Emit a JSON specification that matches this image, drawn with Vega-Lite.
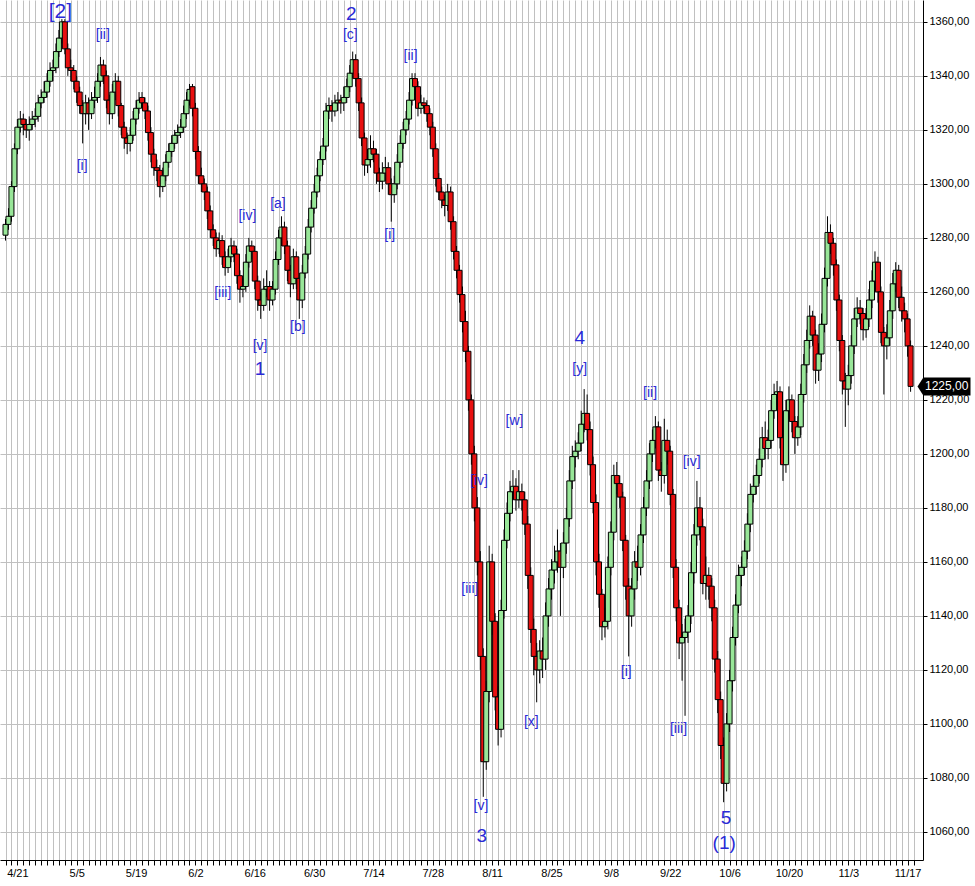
{
"$schema": "https://vega.github.io/schema/vega-lite/v6.json",
"width": 923, "height": 860,
"autosize": {"type": "none"},
"padding": {"left": 0, "top": 0, "right": 52, "bottom": 26},
"background": "white",
"config": {"view": {"stroke": null}},
"datasets": {
"bars": [
{"k":-4,"o":1281,"h":1287,"l":1279,"c":1285},{"k":-3,"o":1285,"h":1291,"l":1283,"c":1288},{"k":-2,"o":1288,"h":1301,"l":1286,"c":1299},{"k":-1,"o":1299,"h":1315,"l":1297,"c":1313},
{"k":0,"o":1313,"h":1324,"l":1311,"c":1321},{"k":1,"o":1321,"h":1327,"l":1319,"c":1324},{"k":2,"o":1324,"h":1326,"l":1318,"c":1322},{"k":3,"o":1322,"h":1324,"l":1317,"c":1320},
{"k":4,"o":1320,"h":1325,"l":1316,"c":1322},{"k":5,"o":1322,"h":1327,"l":1320,"c":1324},{"k":6,"o":1324,"h":1328,"l":1321,"c":1325},{"k":7,"o":1325,"h":1333,"l":1323,"c":1330},
{"k":8,"o":1330,"h":1335,"l":1328,"c":1332},{"k":9,"o":1332,"h":1338,"l":1330,"c":1334},{"k":10,"o":1334,"h":1341,"l":1332,"c":1338},{"k":11,"o":1338,"h":1345,"l":1336,"c":1342},
{"k":12,"o":1342,"h":1346,"l":1338,"c":1343},{"k":13,"o":1343,"h":1352,"l":1341,"c":1349},{"k":14,"o":1349,"h":1357,"l":1347,"c":1354},{"k":15,"o":1354,"h":1361,"l":1352,"c":1360},
{"k":16,"o":1360,"h":1361,"l":1348,"c":1350},{"k":17,"o":1350,"h":1352,"l":1340,"c":1343},{"k":18,"o":1343,"h":1346,"l":1338,"c":1342},{"k":19,"o":1342,"h":1344,"l":1335,"c":1338},
{"k":20,"o":1338,"h":1340,"l":1330,"c":1334},{"k":21,"o":1334,"h":1336,"l":1326,"c":1329},{"k":22,"o":1329,"h":1331,"l":1315,"c":1326},{"k":23,"o":1326,"h":1333,"l":1322,"c":1330},
{"k":24,"o":1330,"h":1332,"l":1320,"c":1326},{"k":25,"o":1326,"h":1334,"l":1324,"c":1331},{"k":26,"o":1331,"h":1336,"l":1328,"c":1332},{"k":27,"o":1332,"h":1341,"l":1330,"c":1338},
{"k":28,"o":1338,"h":1347,"l":1336,"c":1344},{"k":29,"o":1344,"h":1346,"l":1337,"c":1340},{"k":30,"o":1340,"h":1342,"l":1328,"c":1331},{"k":31,"o":1331,"h":1333,"l":1322,"c":1326},
{"k":32,"o":1326,"h":1337,"l":1324,"c":1334},{"k":33,"o":1334,"h":1341,"l":1331,"c":1338},{"k":34,"o":1338,"h":1340,"l":1325,"c":1329},{"k":35,"o":1329,"h":1330,"l":1318,"c":1321},
{"k":36,"o":1321,"h":1323,"l":1313,"c":1317},{"k":37,"o":1317,"h":1319,"l":1311,"c":1315},{"k":38,"o":1315,"h":1321,"l":1312,"c":1318},{"k":39,"o":1318,"h":1327,"l":1316,"c":1324},
{"k":40,"o":1324,"h":1331,"l":1322,"c":1328},{"k":41,"o":1328,"h":1334,"l":1326,"c":1331},{"k":42,"o":1332,"h":1334,"l":1328,"c":1330},{"k":43,"o":1330,"h":1332,"l":1324,"c":1327},
{"k":44,"o":1327,"h":1329,"l":1316,"c":1319},{"k":45,"o":1319,"h":1321,"l":1308,"c":1311},{"k":46,"o":1311,"h":1313,"l":1303,"c":1306},{"k":47,"o":1306,"h":1309,"l":1301,"c":1305},
{"k":48,"o":1305,"h":1307,"l":1295,"c":1299},{"k":49,"o":1299,"h":1306,"l":1297,"c":1303},{"k":50,"o":1303,"h":1311,"l":1301,"c":1308},{"k":51,"o":1308,"h":1315,"l":1306,"c":1312},
{"k":52,"o":1312,"h":1318,"l":1310,"c":1315},{"k":53,"o":1315,"h":1320,"l":1313,"c":1318},{"k":54,"o":1318,"h":1322,"l":1315,"c":1319},{"k":55,"o":1319,"h":1324,"l":1317,"c":1321},
{"k":56,"o":1321,"h":1329,"l":1319,"c":1326},{"k":57,"o":1326,"h":1334,"l":1324,"c":1331},{"k":58,"o":1331,"h":1337,"l":1329,"c":1335},{"k":59,"o":1336,"h":1337,"l":1325,"c":1328},
{"k":60,"o":1328,"h":1330,"l":1309,"c":1312},{"k":61,"o":1312,"h":1314,"l":1300,"c":1303},{"k":62,"o":1303,"h":1306,"l":1297,"c":1300},{"k":63,"o":1300,"h":1302,"l":1294,"c":1297},
{"k":64,"o":1297,"h":1299,"l":1287,"c":1290},{"k":65,"o":1290,"h":1292,"l":1280,"c":1283},{"k":66,"o":1283,"h":1285,"l":1277,"c":1280},{"k":67,"o":1280,"h":1282,"l":1273,"c":1276},
{"k":68,"o":1276,"h":1282,"l":1274,"c":1279},{"k":69,"o":1279,"h":1281,"l":1270,"c":1273},{"k":70,"o":1273,"h":1275,"l":1266,"c":1269},{"k":71,"o":1269,"h":1276,"l":1267,"c":1273},
{"k":72,"o":1273,"h":1280,"l":1271,"c":1277},{"k":73,"o":1277,"h":1279,"l":1271,"c":1274},{"k":74,"o":1274,"h":1276,"l":1263,"c":1266},{"k":75,"o":1266,"h":1268,"l":1256,"c":1261},
{"k":76,"o":1261,"h":1265,"l":1258,"c":1262},{"k":77,"o":1262,"h":1274,"l":1260,"c":1271},{"k":78,"o":1271,"h":1280,"l":1269,"c":1277},{"k":79,"o":1277,"h":1279,"l":1272,"c":1275},
{"k":80,"o":1275,"h":1277,"l":1261,"c":1264},{"k":81,"o":1264,"h":1266,"l":1253,"c":1257},{"k":82,"o":1257,"h":1260,"l":1250,"c":1255},{"k":83,"o":1255,"h":1265,"l":1253,"c":1261},
{"k":84,"o":1261,"h":1268,"l":1258,"c":1262},{"k":85,"o":1262,"h":1264,"l":1253,"c":1257},{"k":86,"o":1257,"h":1264,"l":1255,"c":1261},{"k":87,"o":1261,"h":1275,"l":1259,"c":1272},
{"k":88,"o":1272,"h":1283,"l":1270,"c":1280},{"k":89,"o":1280,"h":1288,"l":1277,"c":1284},{"k":90,"o":1284,"h":1286,"l":1274,"c":1277},{"k":91,"o":1277,"h":1279,"l":1264,"c":1268},
{"k":92,"o":1268,"h":1270,"l":1258,"c":1263},{"k":93,"o":1263,"h":1276,"l":1261,"c":1273},{"k":94,"o":1273,"h":1275,"l":1261,"c":1265},{"k":95,"o":1265,"h":1267,"l":1250,"c":1257},
{"k":96,"o":1257,"h":1270,"l":1254,"c":1267},{"k":97,"o":1267,"h":1277,"l":1265,"c":1274},{"k":98,"o":1274,"h":1287,"l":1272,"c":1284},{"k":99,"o":1284,"h":1294,"l":1282,"c":1291},
{"k":100,"o":1291,"h":1300,"l":1289,"c":1297},{"k":101,"o":1297,"h":1306,"l":1295,"c":1303},{"k":102,"o":1303,"h":1312,"l":1301,"c":1309},{"k":103,"o":1309,"h":1317,"l":1307,"c":1314},
{"k":104,"o":1314,"h":1330,"l":1312,"c":1327},{"k":105,"o":1327,"h":1332,"l":1324,"c":1329},{"k":106,"o":1329,"h":1331,"l":1323,"c":1327},{"k":107,"o":1327,"h":1333,"l":1325,"c":1330},
{"k":108,"o":1330,"h":1334,"l":1327,"c":1331},{"k":109,"o":1331,"h":1333,"l":1326,"c":1330},{"k":110,"o":1330,"h":1336,"l":1327,"c":1332},{"k":111,"o":1332,"h":1339,"l":1330,"c":1336},
{"k":112,"o":1336,"h":1344,"l":1334,"c":1341},{"k":113,"o":1341,"h":1349,"l":1339,"c":1346},{"k":114,"o":1346,"h":1348,"l":1336,"c":1339},{"k":115,"o":1339,"h":1341,"l":1327,"c":1330},
{"k":116,"o":1330,"h":1332,"l":1314,"c":1317},{"k":117,"o":1317,"h":1319,"l":1303,"c":1307},{"k":118,"o":1307,"h":1313,"l":1304,"c":1309},{"k":119,"o":1309,"h":1318,"l":1306,"c":1313},
{"k":120,"o":1313,"h":1316,"l":1308,"c":1311},{"k":121,"o":1311,"h":1313,"l":1300,"c":1304},{"k":122,"o":1304,"h":1306,"l":1297,"c":1301},{"k":123,"o":1301,"h":1308,"l":1298,"c":1304},
{"k":124,"o":1304,"h":1310,"l":1301,"c":1306},{"k":125,"o":1306,"h":1308,"l":1296,"c":1300},{"k":126,"o":1300,"h":1302,"l":1286,"c":1296},{"k":127,"o":1296,"h":1303,"l":1293,"c":1300},
{"k":128,"o":1300,"h":1311,"l":1298,"c":1308},{"k":129,"o":1308,"h":1318,"l":1306,"c":1315},{"k":130,"o":1315,"h":1323,"l":1313,"c":1320},{"k":131,"o":1320,"h":1327,"l":1318,"c":1324},
{"k":132,"o":1324,"h":1334,"l":1322,"c":1331},{"k":133,"o":1331,"h":1341,"l":1329,"c":1339},{"k":134,"o":1339,"h":1341,"l":1333,"c":1336},{"k":135,"o":1336,"h":1338,"l":1325,"c":1328},
{"k":136,"o":1328,"h":1333,"l":1326,"c":1330},{"k":137,"o":1330,"h":1332,"l":1326,"c":1329},{"k":138,"o":1329,"h":1331,"l":1323,"c":1326},{"k":139,"o":1326,"h":1328,"l":1318,"c":1321},
{"k":140,"o":1321,"h":1323,"l":1310,"c":1313},{"k":141,"o":1313,"h":1315,"l":1299,"c":1302},{"k":142,"o":1302,"h":1304,"l":1294,"c":1297},{"k":143,"o":1297,"h":1299,"l":1291,"c":1294},
{"k":144,"o":1294,"h":1296,"l":1288,"c":1292},{"k":145,"o":1292,"h":1300,"l":1290,"c":1297},{"k":146,"o":1297,"h":1299,"l":1283,"c":1286},{"k":147,"o":1286,"h":1288,"l":1272,"c":1275},
{"k":148,"o":1275,"h":1277,"l":1265,"c":1268},{"k":149,"o":1268,"h":1270,"l":1256,"c":1259},{"k":150,"o":1259,"h":1262,"l":1245,"c":1249},{"k":151,"o":1249,"h":1253,"l":1234,"c":1238},
{"k":152,"o":1238,"h":1240,"l":1216,"c":1220},{"k":153,"o":1220,"h":1222,"l":1196,"c":1200},{"k":154,"o":1200,"h":1203,"l":1175,"c":1180},{"k":155,"o":1180,"h":1184,"l":1155,"c":1160},
{"k":156,"o":1160,"h":1164,"l":1120,"c":1125},{"k":157,"o":1125,"h":1128,"l":1073,"c":1086},{"k":158,"o":1086,"h":1116,"l":1083,"c":1112},{"k":159,"o":1112,"h":1166,"l":1108,"c":1160},
{"k":160,"o":1160,"h":1163,"l":1133,"c":1138},{"k":161,"o":1138,"h":1141,"l":1105,"c":1110},{"k":162,"o":1110,"h":1114,"l":1092,"c":1098},{"k":163,"o":1098,"h":1146,"l":1095,"c":1142},
{"k":164,"o":1142,"h":1172,"l":1139,"c":1168},{"k":165,"o":1168,"h":1182,"l":1165,"c":1178},{"k":166,"o":1178,"h":1190,"l":1175,"c":1186},{"k":167,"o":1186,"h":1194,"l":1183,"c":1188},
{"k":168,"o":1188,"h":1191,"l":1179,"c":1183},{"k":169,"o":1183,"h":1194,"l":1180,"c":1186},{"k":170,"o":1186,"h":1189,"l":1179,"c":1183},{"k":171,"o":1183,"h":1186,"l":1170,"c":1174},
{"k":172,"o":1174,"h":1177,"l":1150,"c":1155},{"k":173,"o":1155,"h":1158,"l":1130,"c":1135},{"k":174,"o":1135,"h":1139,"l":1118,"c":1125},{"k":175,"o":1125,"h":1130,"l":1108,"c":1120},
{"k":176,"o":1120,"h":1131,"l":1115,"c":1127},{"k":177,"o":1127,"h":1132,"l":1117,"c":1124},{"k":178,"o":1124,"h":1145,"l":1120,"c":1140},{"k":179,"o":1140,"h":1154,"l":1136,"c":1150},
{"k":180,"o":1150,"h":1161,"l":1146,"c":1157},{"k":181,"o":1157,"h":1166,"l":1152,"c":1160},{"k":182,"o":1160,"h":1172,"l":1156,"c":1164},{"k":183,"o":1164,"h":1167,"l":1140,"c":1158},
{"k":184,"o":1158,"h":1171,"l":1154,"c":1167},{"k":185,"o":1167,"h":1180,"l":1163,"c":1176},{"k":186,"o":1176,"h":1194,"l":1173,"c":1190},{"k":187,"o":1190,"h":1203,"l":1187,"c":1199},
{"k":188,"o":1199,"h":1205,"l":1195,"c":1201},{"k":189,"o":1201,"h":1208,"l":1198,"c":1204},{"k":190,"o":1204,"h":1216,"l":1201,"c":1211},{"k":191,"o":1211,"h":1224,"l":1208,"c":1215},
{"k":192,"o":1215,"h":1222,"l":1205,"c":1209},{"k":193,"o":1209,"h":1212,"l":1192,"c":1196},{"k":194,"o":1196,"h":1199,"l":1178,"c":1182},{"k":195,"o":1182,"h":1185,"l":1155,"c":1160},
{"k":196,"o":1160,"h":1163,"l":1143,"c":1148},{"k":197,"o":1148,"h":1150,"l":1131,"c":1136},{"k":198,"o":1136,"h":1143,"l":1132,"c":1138},{"k":199,"o":1138,"h":1162,"l":1135,"c":1158},
{"k":200,"o":1158,"h":1175,"l":1155,"c":1171},{"k":201,"o":1171,"h":1196,"l":1168,"c":1192},{"k":202,"o":1192,"h":1197,"l":1185,"c":1189},{"k":203,"o":1189,"h":1192,"l":1180,"c":1184},
{"k":204,"o":1184,"h":1186,"l":1164,"c":1168},{"k":205,"o":1168,"h":1170,"l":1146,"c":1151},{"k":206,"o":1151,"h":1154,"l":1125,"c":1140},{"k":207,"o":1140,"h":1154,"l":1136,"c":1150},
{"k":208,"o":1150,"h":1164,"l":1146,"c":1160},{"k":209,"o":1160,"h":1166,"l":1153,"c":1158},{"k":210,"o":1158,"h":1174,"l":1155,"c":1170},{"k":211,"o":1170,"h":1184,"l":1167,"c":1180},
{"k":212,"o":1180,"h":1194,"l":1177,"c":1190},{"k":213,"o":1190,"h":1204,"l":1187,"c":1200},{"k":214,"o":1200,"h":1209,"l":1197,"c":1205},{"k":215,"o":1205,"h":1214,"l":1202,"c":1210},
{"k":216,"o":1210,"h":1212,"l":1190,"c":1194},{"k":217,"o":1194,"h":1197,"l":1186,"c":1192},{"k":218,"o":1192,"h":1213,"l":1189,"c":1205},{"k":219,"o":1205,"h":1209,"l":1196,"c":1201},
{"k":220,"o":1201,"h":1203,"l":1181,"c":1185},{"k":221,"o":1185,"h":1187,"l":1154,"c":1158},{"k":222,"o":1158,"h":1161,"l":1138,"c":1143},{"k":223,"o":1143,"h":1146,"l":1124,"c":1130},
{"k":224,"o":1130,"h":1137,"l":1116,"c":1132},{"k":225,"o":1132,"h":1139,"l":1103,"c":1134},{"k":226,"o":1134,"h":1144,"l":1130,"c":1140},{"k":227,"o":1140,"h":1160,"l":1137,"c":1156},
{"k":228,"o":1156,"h":1174,"l":1152,"c":1170},{"k":229,"o":1170,"h":1190,"l":1166,"c":1180},{"k":230,"o":1180,"h":1184,"l":1168,"c":1173},{"k":231,"o":1173,"h":1176,"l":1148,"c":1152},
{"k":232,"o":1152,"h":1162,"l":1146,"c":1155},{"k":233,"o":1155,"h":1158,"l":1146,"c":1151},{"k":234,"o":1151,"h":1154,"l":1138,"c":1143},{"k":235,"o":1143,"h":1146,"l":1119,"c":1124},
{"k":236,"o":1124,"h":1127,"l":1104,"c":1109},{"k":237,"o":1109,"h":1112,"l":1087,"c":1092},{"k":238,"o":1092,"h":1095,"l":1071,"c":1078},{"k":239,"o":1078,"h":1104,"l":1075,"c":1100},
{"k":240,"o":1100,"h":1120,"l":1097,"c":1116},{"k":241,"o":1116,"h":1136,"l":1112,"c":1132},{"k":242,"o":1132,"h":1148,"l":1129,"c":1144},{"k":243,"o":1144,"h":1159,"l":1141,"c":1155},
{"k":244,"o":1155,"h":1162,"l":1151,"c":1158},{"k":245,"o":1158,"h":1168,"l":1155,"c":1164},{"k":246,"o":1164,"h":1178,"l":1161,"c":1174},{"k":247,"o":1174,"h":1189,"l":1171,"c":1185},
{"k":248,"o":1185,"h":1192,"l":1182,"c":1188},{"k":249,"o":1188,"h":1196,"l":1185,"c":1192},{"k":250,"o":1192,"h":1202,"l":1189,"c":1198},{"k":251,"o":1198,"h":1210,"l":1195,"c":1206},
{"k":252,"o":1206,"h":1212,"l":1198,"c":1202},{"k":253,"o":1202,"h":1209,"l":1198,"c":1205},{"k":254,"o":1205,"h":1220,"l":1202,"c":1216},{"k":255,"o":1216,"h":1226,"l":1213,"c":1222},
{"k":256,"o":1222,"h":1227,"l":1218,"c":1223},{"k":257,"o":1223,"h":1225,"l":1202,"c":1206},{"k":258,"o":1206,"h":1209,"l":1190,"c":1196},{"k":259,"o":1196,"h":1220,"l":1193,"c":1216},
{"k":260,"o":1216,"h":1225,"l":1213,"c":1220},{"k":261,"o":1220,"h":1222,"l":1208,"c":1212},{"k":262,"o":1212,"h":1214,"l":1200,"c":1206},{"k":263,"o":1206,"h":1214,"l":1203,"c":1210},
{"k":264,"o":1210,"h":1226,"l":1207,"c":1222},{"k":265,"o":1222,"h":1237,"l":1219,"c":1233},{"k":266,"o":1233,"h":1246,"l":1230,"c":1242},{"k":267,"o":1242,"h":1255,"l":1239,"c":1251},
{"k":268,"o":1251,"h":1253,"l":1240,"c":1244},{"k":269,"o":1244,"h":1246,"l":1226,"c":1231},{"k":270,"o":1231,"h":1241,"l":1227,"c":1237},{"k":271,"o":1237,"h":1252,"l":1234,"c":1248},
{"k":272,"o":1248,"h":1269,"l":1245,"c":1265},{"k":273,"o":1265,"h":1288,"l":1262,"c":1282},{"k":274,"o":1282,"h":1285,"l":1274,"c":1278},{"k":275,"o":1278,"h":1280,"l":1266,"c":1270},
{"k":276,"o":1270,"h":1272,"l":1253,"c":1257},{"k":277,"o":1257,"h":1259,"l":1238,"c":1242},{"k":278,"o":1242,"h":1244,"l":1222,"c":1227},{"k":279,"o":1227,"h":1230,"l":1210,"c":1224},
{"k":280,"o":1224,"h":1233,"l":1218,"c":1229},{"k":281,"o":1229,"h":1244,"l":1226,"c":1240},{"k":282,"o":1240,"h":1254,"l":1237,"c":1250},{"k":283,"o":1250,"h":1258,"l":1247,"c":1254},
{"k":284,"o":1254,"h":1257,"l":1248,"c":1252},{"k":285,"o":1252,"h":1254,"l":1242,"c":1246},{"k":286,"o":1246,"h":1254,"l":1243,"c":1250},{"k":287,"o":1250,"h":1261,"l":1247,"c":1257},
{"k":288,"o":1257,"h":1268,"l":1254,"c":1264},{"k":289,"o":1264,"h":1275,"l":1261,"c":1271},{"k":290,"o":1271,"h":1273,"l":1256,"c":1260},{"k":291,"o":1260,"h":1262,"l":1241,"c":1245},
{"k":292,"o":1245,"h":1247,"l":1222,"c":1240},{"k":293,"o":1240,"h":1248,"l":1235,"c":1243},{"k":294,"o":1243,"h":1257,"l":1240,"c":1253},{"k":295,"o":1253,"h":1267,"l":1250,"c":1263},
{"k":296,"o":1263,"h":1271,"l":1260,"c":1268},{"k":297,"o":1268,"h":1270,"l":1254,"c":1258},{"k":298,"o":1258,"h":1262,"l":1249,"c":1253},{"k":299,"o":1253,"h":1256,"l":1245,"c":1250},
{"k":300,"o":1250,"h":1252,"l":1236,"c":1240},{"k":301,"o":1240,"h":1242,"l":1223,"c":1225}
],
"ann": [
{"k":14.5,"p":1363.7,"t":"[2]","lvl":"intermediate"},
{"k":28.8,"p":1355.2,"t":"[ii]","lvl":"minute"},
{"k":21.8,"p":1306.7,"t":"[i]","lvl":"minute"},
{"k":112.5,"p":1363,"t":"2","lvl":"minor"},
{"k":112.2,"p":1355.2,"t":"[c]","lvl":"minute"},
{"k":132.5,"p":1347.4,"t":"[ii]","lvl":"minute"},
{"k":125.5,"p":1281.1,"t":"[i]","lvl":"minute"},
{"k":77.5,"p":1288.1,"t":"[iv]","lvl":"minute"},
{"k":87.8,"p":1292.6,"t":"[a]","lvl":"minute"},
{"k":69.2,"p":1259.6,"t":"[iii]","lvl":"minute"},
{"k":81.8,"p":1240,"t":"[v]","lvl":"minute"},
{"k":81.8,"p":1231.5,"t":"1","lvl":"minor"},
{"k":94.5,"p":1247,"t":"[b]","lvl":"minute"},
{"k":189.5,"p":1243,"t":"4","lvl":"minor"},
{"k":189.5,"p":1231.5,"t":"[y]","lvl":"minute"},
{"k":167.5,"p":1212.2,"t":"[w]","lvl":"minute"},
{"k":155.5,"p":1190,"t":"[iv]","lvl":"minute"},
{"k":213.2,"p":1222.6,"t":"[ii]","lvl":"minute"},
{"k":227.2,"p":1197,"t":"[iv]","lvl":"minute"},
{"k":152.5,"p":1150,"t":"[iii]","lvl":"minute"},
{"k":173.2,"p":1100.7,"t":"[x]","lvl":"minute"},
{"k":205.2,"p":1119.3,"t":"[i]","lvl":"minute"},
{"k":222.8,"p":1098.1,"t":"[iii]","lvl":"minute"},
{"k":156.2,"p":1069.6,"t":"[v]","lvl":"minute"},
{"k":156.5,"p":1058.5,"t":"3","lvl":"minor"},
{"k":238.8,"p":1065.2,"t":"5","lvl":"minor"},
{"k":238.2,"p":1055.9,"t":"(1)","lvl":"primary"}
],
"last": [{"k":303.5,"p":1225,"t":"1225,00"}]
},
"layer": [
{
"data": {"name": "bars"},
"mark": {"type": "rule", "color": "black", "strokeWidth": 1},
"encoding": {
"x": {"field": "k", "type": "quantitative", "title": null,
"scale": {"domain": [-4.17, 303.5], "nice": false, "zero": false},
"axis": {"orient": "bottom", "tickCount": 400, "values": [-4,-2,0,2,4,6,8,10,12,14,16,18,20,22,24,26,28,30,32,34,36,38,40,42,44,46,48,50,52,54,56,58,60,62,64,66,68,70,72,74,76,78,80,82,84,86,88,90,92,94,96,98,100,102,104,106,108,110,112,114,116,118,120,122,124,126,128,130,132,134,136,138,140,142,144,146,148,150,152,154,156,158,160,162,164,166,168,170,172,174,176,178,180,182,184,186,188,190,192,194,196,198,200,202,204,206,208,210,212,214,216,218,220,222,224,226,228,230,232,234,236,238,240,242,244,246,248,250,252,254,256,258,260,262,264,266,268,270,272,274,276,278,280,282,284,286,288,290,292,294,296,298,300,302],
"grid": true, "gridColor": "#c0c0c0", "gridWidth": 1, "gridOpacity": 1,
"domainColor": "black", "domainWidth": 1, "tickColor": "black", "tickSize": 5, "tickWidth": 1,
"labelExpr": "datum.value % 20 == 0 && datum.value >= 0 ? ['4/21','5/5','5/19','6/2','6/16','6/30','7/14','7/28','8/11','8/25','9/8','9/22','10/6','10/20','11/3','11/17'][datum.value/20] : ''",
"labelFont": "Liberation Sans", "labelFontSize": 11, "labelColor": "black", "labelPadding": 2, "labelOverlap": false, "labelFlush": false, "title": null}},
"y": {"field": "l", "type": "quantitative", "title": null,
"scale": {"domain": [1049.6, 1368.1], "nice": false, "zero": false},
"axis": {"orient": "right", "tickCount": 100, "values": [1060,1080,1100,1120,1140,1160,1180,1200,1220,1240,1260,1280,1300,1320,1340,1360],
"grid": true, "gridColor": "#c0c0c0", "gridWidth": 1, "gridOpacity": 1,
"domainColor": "black", "domainWidth": 1, "tickColor": "black", "tickSize": 4,
"labelExpr": "replace(format(datum.value, '.2f'), '.', ',')",
"labelFont": "Liberation Sans", "labelFontSize": 11, "labelColor": "black", "labelPadding": 2, "title": null}},
"y2": {"field": "h"}
}
},
{
"data": {"name": "bars"},
"mark": {"type": "bar", "size": 5, "stroke": "black", "strokeWidth": 1, "orient": "vertical"},
"encoding": {
"x": {"field": "k", "type": "quantitative", "title": null},
"y": {"field": "o", "type": "quantitative", "title": null},
"y2": {"field": "c"},
"color": {"condition": {"test": "datum.c >= datum.o", "value": "#98e698"}, "value": "#e81010"}
}
},
{
"data": {"name": "ann"},
"transform": [{"filter": "datum.lvl == 'minute'"}],
"mark": {"type": "text", "font": "Liberation Sans", "fontSize": 14, "color": "#2a2ad6", "align": "center", "baseline": "middle"},
"encoding": {
"x": {"field": "k", "type": "quantitative", "title": null},
"y": {"field": "p", "type": "quantitative", "title": null},
"text": {"field": "t"}
}
},
{
"data": {"name": "ann"},
"transform": [{"filter": "datum.lvl == 'minor' || datum.lvl == 'primary'"}],
"mark": {"type": "text", "font": "Liberation Sans", "fontSize": 19, "color": "#2a2ad6", "align": "center", "baseline": "middle"},
"encoding": {
"x": {"field": "k", "type": "quantitative", "title": null},
"y": {"field": "p", "type": "quantitative", "title": null},
"text": {"field": "t"}
}
},
{
"data": {"name": "ann"},
"transform": [{"filter": "datum.lvl == 'intermediate'"}],
"mark": {"type": "text", "font": "Liberation Sans", "fontSize": 21, "color": "#2a2ad6", "align": "center", "baseline": "middle"},
"encoding": {
"x": {"field": "k", "type": "quantitative", "title": null},
"y": {"field": "p", "type": "quantitative", "title": null},
"text": {"field": "t"}
}
},
{
"data": {"name": "last"},
"mark": {"type": "point", "filled": true, "color": "black", "opacity": 1, "size": 2809, "xOffset": 26,
"shape": "M -1 0 L -0.78 -0.34 L 1 -0.34 L 1 0.34 L -0.78 0.34 Z"},
"encoding": {
"x": {"field": "k", "type": "quantitative", "title": null},
"y": {"field": "p", "type": "quantitative", "title": null}
}
},
{
"data": {"name": "last"},
"mark": {"type": "text", "font": "Liberation Sans", "fontSize": 12, "color": "white", "align": "left", "baseline": "middle", "xOffset": 7},
"encoding": {
"x": {"field": "k", "type": "quantitative", "title": null},
"y": {"field": "p", "type": "quantitative", "title": null},
"text": {"field": "t"}
}
}
]
}
